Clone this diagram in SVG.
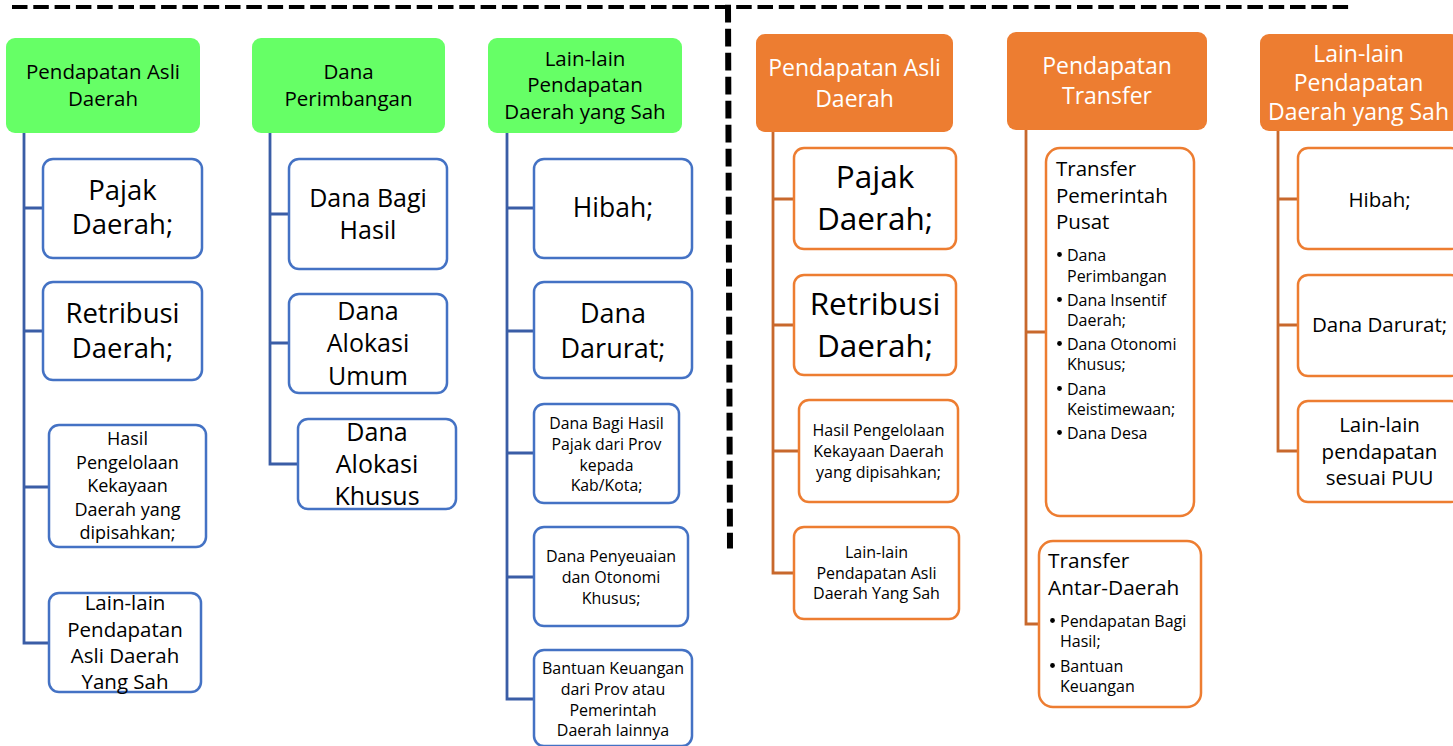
<svg xmlns="http://www.w3.org/2000/svg" width="1453" height="746" viewBox="0 0 1453 746">
  <style>
    text { font-family: "Open Sans", "Liberation Sans", sans-serif; fill: #000; }
    .c { text-anchor: middle; }
    .hg { fill: #66FF66; }
    .ho { fill: #ED7D31; }
    .wt { fill: #FFFFFF; }
    .bb { fill: #FFFFFF; stroke: #4472C4; stroke-width: 2.5; }
    .ob { fill: #FFFFFF; stroke: #ED7D31; stroke-width: 2.5; }
    .lb { fill: none; stroke: #3A5DA6; stroke-width: 2.8; stroke-linejoin: miter; }
    .lo { fill: none; stroke: #C8682C; stroke-width: 2.8; stroke-linejoin: miter; }
    .dash { fill: none; stroke: #000; }
    .dot { fill: #000; }
  </style>

  <!-- separators -->
  <g id="separators">
    <line class="dash" x1="12" y1="7" x2="1350" y2="7" stroke-width="4" stroke-dasharray="15.5 5.8"/>
    <line class="dash" x1="728" y1="4.7" x2="730" y2="548.5" stroke-width="6" stroke-dasharray="17.7 6.3"/>
  </g>

  <!-- connectors -->
  <g id="connectors">
    <path class="lb" d="M24,133 V643 H49 M24,208 H43 M24,331 H43 M24,487 H49"/>
    <path class="lb" d="M270,133 V464 H298 M270,214 H289 M270,343 H289"/>
    <path class="lb" d="M507,133 V699 H534 M507,208 H534 M507,331 H534 M507,453 H534 M507,577 H534"/>
    <path class="lo" d="M773,132 V573 H794 M773,199 H794 M773,325 H794 M773,451 H799"/>
    <path class="lo" d="M1026,130 V624 H1039 M1026,332 H1046"/>
    <path class="lo" d="M1278,131 V451 H1298 M1278,199 H1298 M1278,325 H1298"/>
  </g>

  <!-- green headers -->
  <g id="g-pad">
    <rect class="hg" x="6" y="38" width="194" height="95" rx="9"/>
    <text class="c" x="103" font-size="20.5"><tspan x="103" y="79">Pendapatan Asli</tspan><tspan x="103" y="106">Daerah</tspan></text>
  </g>
  <g id="g-dp">
    <rect class="hg" x="252" y="38" width="193" height="95" rx="9"/>
    <text class="c" font-size="20.5"><tspan x="348.5" y="79">Dana</tspan><tspan x="348.5" y="106">Perimbangan</tspan></text>
  </g>
  <g id="g-lain">
    <rect class="hg" x="488" y="38" width="194" height="95" rx="9"/>
    <text class="c" font-size="20.5"><tspan x="585" y="66">Lain-lain</tspan><tspan x="585" y="92">Pendapatan</tspan><tspan x="585" y="119">Daerah yang Sah</tspan></text>
  </g>

  <!-- column 1 items -->
  <g id="b-pajak">
    <rect class="bb" x="43" y="159" width="159" height="99" rx="10"/>
    <text class="c" font-size="27.5"><tspan x="122.5" y="200">Pajak</tspan><tspan x="122.5" y="234">Daerah;</tspan></text>
  </g>
  <g id="b-retribusi">
    <rect class="bb" x="43" y="282" width="159" height="98" rx="10"/>
    <text class="c" font-size="27.5"><tspan x="122.5" y="323">Retribusi</tspan><tspan x="122.5" y="358">Daerah;</tspan></text>
  </g>
  <g id="b-hasil">
    <rect class="bb" x="49" y="425" width="157" height="122" rx="10"/>
    <text class="c" font-size="18"><tspan x="127.5" y="445">Hasil</tspan><tspan x="127.5" y="468.5">Pengelolaan</tspan><tspan x="127.5" y="492">Kekayaan</tspan><tspan x="127.5" y="515.5">Daerah yang</tspan><tspan x="127.5" y="539">dipisahkan;</tspan></text>
  </g>
  <g id="b-lainpad">
    <rect class="bb" x="49" y="593" width="152" height="99" rx="10"/>
    <text class="c" font-size="20.5"><tspan x="125" y="610">Lain-lain</tspan><tspan x="125" y="637">Pendapatan</tspan><tspan x="125" y="663">Asli Daerah</tspan><tspan x="125" y="689">Yang Sah</tspan></text>
  </g>

  <!-- column 2 items -->
  <g id="b-dbh">
    <rect class="bb" x="289" y="159" width="158" height="110" rx="10"/>
    <text class="c" font-size="25"><tspan x="368" y="207">Dana Bagi</tspan><tspan x="368" y="238.5">Hasil</tspan></text>
  </g>
  <g id="b-dau">
    <rect class="bb" x="289" y="294" width="158" height="99" rx="10"/>
    <text class="c" font-size="25"><tspan x="368" y="320">Dana</tspan><tspan x="368" y="352">Alokasi</tspan><tspan x="368" y="385">Umum</tspan></text>
  </g>
  <g id="b-dak">
    <rect class="bb" x="298" y="419" width="158" height="90" rx="10"/>
    <text class="c" font-size="25"><tspan x="377" y="441">Dana</tspan><tspan x="377" y="473">Alokasi</tspan><tspan x="377" y="505">Khusus</tspan></text>
  </g>

  <!-- column 3 items -->
  <g id="b-hibah">
    <rect class="bb" x="534" y="159" width="158" height="99" rx="10"/>
    <text class="c" font-size="26.5" x="613" y="217">Hibah;</text>
  </g>
  <g id="b-darurat">
    <rect class="bb" x="534" y="282" width="158" height="96" rx="10"/>
    <text class="c" font-size="27"><tspan x="613" y="323">Dana</tspan><tspan x="613" y="358">Darurat;</tspan></text>
  </g>
  <g id="b-dbhprov">
    <rect class="bb" x="534" y="404" width="145" height="99" rx="10"/>
    <text class="c" font-size="15.8"><tspan x="606.5" y="428.5">Dana Bagi Hasil</tspan><tspan x="606.5" y="449.5">Pajak dari Prov</tspan><tspan x="606.5" y="470.5">kepada</tspan><tspan x="606.5" y="490.5">Kab/Kota;</tspan></text>
  </g>
  <g id="b-penyesuaian">
    <rect class="bb" x="534" y="527" width="154" height="99" rx="10"/>
    <text class="c" font-size="16"><tspan x="611" y="561.5">Dana Penyeuaian</tspan><tspan x="611" y="582.5">dan Otonomi</tspan><tspan x="611" y="603.5">Khusus;</tspan></text>
  </g>
  <g id="b-bantuan">
    <rect class="bb" x="534" y="650" width="158" height="96" rx="10"/>
    <text class="c" font-size="16"><tspan x="613" y="674">Bantuan Keuangan</tspan><tspan x="613" y="695">dari Prov atau</tspan><tspan x="613" y="715.5">Pemerintah</tspan><tspan x="613" y="736">Daerah lainnya</tspan></text>
  </g>

  <!-- orange headers -->
  <g id="o-pad">
    <rect class="ho" x="756" y="34" width="197" height="98" rx="9"/>
    <text class="c wt" font-size="23"><tspan x="854.5" y="76">Pendapatan Asli</tspan><tspan x="854.5" y="107">Daerah</tspan></text>
  </g>
  <g id="o-transfer">
    <rect class="ho" x="1007" y="32" width="200" height="98" rx="9"/>
    <text class="c wt" font-size="23"><tspan x="1107" y="74">Pendapatan</tspan><tspan x="1107" y="104">Transfer</tspan></text>
  </g>
  <g id="o-lain">
    <rect class="ho" x="1260" y="34" width="200" height="97" rx="9"/>
    <text class="c wt" font-size="23"><tspan x="1358.5" y="62">Lain-lain</tspan><tspan x="1358.5" y="91">Pendapatan</tspan><tspan x="1358.5" y="120">Daerah yang Sah</tspan></text>
  </g>

  <!-- orange column 1 items -->
  <g id="ob-pajak">
    <rect class="ob" x="794" y="148" width="162" height="101" rx="10"/>
    <text class="c" font-size="31.5"><tspan x="875" y="188">Pajak</tspan><tspan x="875" y="230">Daerah;</tspan></text>
  </g>
  <g id="ob-retribusi">
    <rect class="ob" x="794" y="275" width="162" height="100" rx="10"/>
    <text class="c" font-size="31.5"><tspan x="875" y="315">Retribusi</tspan><tspan x="875" y="357">Daerah;</tspan></text>
  </g>
  <g id="ob-hasil">
    <rect class="ob" x="799" y="400" width="159" height="102" rx="10"/>
    <text class="c" font-size="16"><tspan x="878.5" y="436">Hasil Pengelolaan</tspan><tspan x="878.5" y="457">Kekayaan Daerah</tspan><tspan x="878.5" y="478">yang dipisahkan;</tspan></text>
  </g>
  <g id="ob-lainpad">
    <rect class="ob" x="794" y="527" width="165" height="92" rx="10"/>
    <text class="c" font-size="16"><tspan x="876.5" y="558">Lain-lain</tspan><tspan x="876.5" y="579">Pendapatan Asli</tspan><tspan x="876.5" y="599">Daerah Yang Sah</tspan></text>
  </g>

  <!-- orange column 2 items -->
  <g id="ob-pusat">
    <rect class="ob" x="1046" y="148" width="148" height="368" rx="14"/>
    <text font-size="20.5"><tspan x="1056" y="176">Transfer</tspan><tspan x="1056" y="203">Pemerintah</tspan><tspan x="1056" y="229">Pusat</tspan></text>
    <g class="dot">
      <circle cx="1059.5" cy="254.5" r="2.4"/>
      <circle cx="1059.5" cy="299.5" r="2.4"/>
      <circle cx="1059.5" cy="343.5" r="2.4"/>
      <circle cx="1059.5" cy="388.5" r="2.4"/>
      <circle cx="1059.5" cy="432.5" r="2.4"/>
    </g>
    <text font-size="16"><tspan x="1067" y="261">Dana</tspan><tspan x="1067" y="282">Perimbangan</tspan><tspan x="1067" y="306">Dana Insentif</tspan><tspan x="1067" y="326">Daerah;</tspan><tspan x="1067" y="350">Dana Otonomi</tspan><tspan x="1067" y="370">Khusus;</tspan><tspan x="1067" y="395">Dana</tspan><tspan x="1067" y="414.5">Keistimewaan;</tspan><tspan x="1067" y="439">Dana Desa</tspan></text>
  </g>
  <g id="ob-antar">
    <rect class="ob" x="1039" y="541" width="162" height="166" rx="14"/>
    <text font-size="20.8"><tspan x="1048" y="568">Transfer</tspan><tspan x="1048" y="595">Antar-Daerah</tspan></text>
    <g class="dot">
      <circle cx="1052.5" cy="620.5" r="2.4"/>
      <circle cx="1052.5" cy="665.5" r="2.4"/>
    </g>
    <text font-size="16"><tspan x="1060" y="627">Pendapatan Bagi</tspan><tspan x="1060" y="647">Hasil;</tspan><tspan x="1060" y="672">Bantuan</tspan><tspan x="1060" y="692">Keuangan</tspan></text>
  </g>

  <!-- orange column 3 items -->
  <g id="ob-hibah">
    <rect class="ob" x="1298" y="148" width="163" height="101" rx="10"/>
    <text class="c" font-size="20.5" x="1379.5" y="207">Hibah;</text>
  </g>
  <g id="ob-darurat">
    <rect class="ob" x="1298" y="275" width="163" height="101" rx="10"/>
    <text class="c" font-size="20.5" x="1379.5" y="332">Dana Darurat;</text>
  </g>
  <g id="ob-puu">
    <rect class="ob" x="1298" y="401" width="163" height="101" rx="10"/>
    <text class="c" font-size="20.5"><tspan x="1379.5" y="432">Lain-lain</tspan><tspan x="1379.5" y="459">pendapatan</tspan><tspan x="1379.5" y="485">sesuai PUU</tspan></text>
  </g>
</svg>
